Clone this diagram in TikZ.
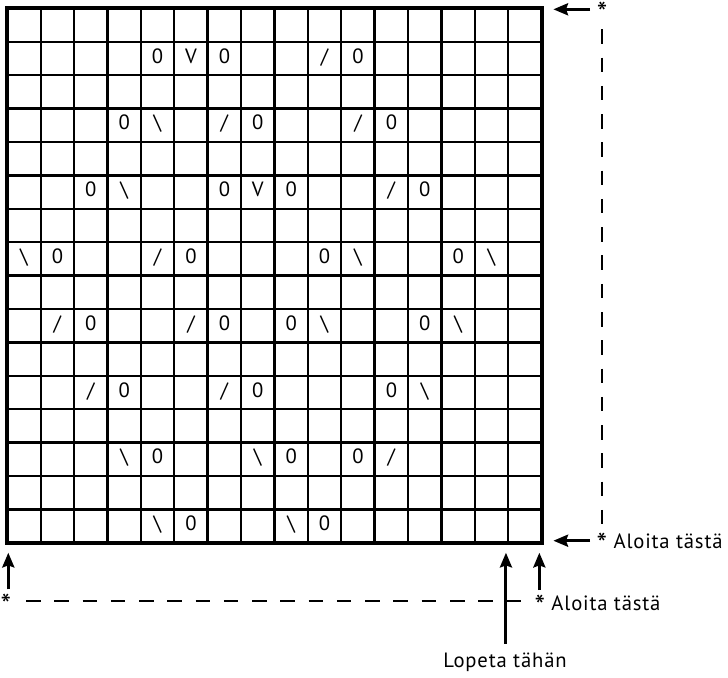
\documentclass[tikz,border=0pt]{standalone}
\usepackage{fontspec}
\setmainfont{PT Sans}[LetterSpace=4]
\usetikzlibrary{arrows.meta,calc}

\newcommand{\bsl}{\textbackslash}
\newcommand{\fsl}{/}
\newcommand{\lowstar}{\raisebox{-.3em}{\scalebox{1.45}{*}}}

\begin{document}
\begin{tikzpicture}
  [x=25.05pt, y=25.05pt,
   every node/.style={font=\fontsize{15.5}{18}\selectfont},
   gridline/.style={line width=1.8pt},
   frame/.style={line width=3pt},
   cell/.style={inner sep=0pt, text height=0.7em, text depth=0pt},
   marker/.style={inner sep=0pt, anchor=base west},
   arr/.style={line width=2.2pt, -{Stealth[length=11pt,width=9pt,inset=1.5pt]}},
   guide/.style={line width=1.6pt, dash pattern=on 10.9pt off 10.3pt}]

  \useasboundingbox (-0.2186,-4.021) rectangle (21.578,16.249);

  % chart
  \draw [gridline, step={(1,1)}] (0,0) grid (16,16);
  \draw [frame] (0,0) rectangle (16,16);
  \coordinate (BL) at (0,0);
  \coordinate (BR) at (16,0);
  \coordinate (TR) at (16,16);

  \foreach \r/\c/\s in {2/5/0, 2/6/V, 2/7/0, 2/10/\fsl, 2/11/0,
      4/4/0, 4/5/\bsl, 4/7/\fsl, 4/8/0, 4/11/\fsl, 4/12/0,
      6/3/0, 6/4/\bsl, 6/7/0, 6/8/V, 6/9/0, 6/12/\fsl, 6/13/0,
      8/1/\bsl, 8/2/0, 8/5/\fsl, 8/6/0, 8/10/0, 8/11/\bsl, 8/14/0, 8/15/\bsl,
      10/2/\fsl, 10/3/0, 10/6/\fsl, 10/7/0, 10/9/0, 10/10/\bsl, 10/13/0, 10/14/\bsl,
      12/3/\fsl, 12/4/0, 12/7/\fsl, 12/8/0, 12/12/0, 12/13/\bsl,
      14/4/\bsl, 14/5/0, 14/8/\bsl, 14/9/0, 14/11/0, 14/12/\fsl,
      16/5/\bsl, 16/6/0, 16/9/\bsl, 16/10/0}
    \node [cell] (s-\r-\c) at (\c-0.5, 16.5-\r) {\s};

  % start and stop marks
  \node [marker, anchor=base] (starTop) at (17.81,15.74) {\lowstar};
  \node [marker] (startRow) at (17.64,-0.168) {\lowstar\ Aloita tästä};
  \node [marker, anchor=base] (starLeft) at (-0.04,-2.006) {\lowstar};
  \node [marker] (startCol) at (15.78,-2.015) {\lowstar\ Aloita tästä};
  \node [marker, anchor=base] (stopCol) at (14.9,-3.75) {Lopeta tähän};

  \path (TR) ++(1.45,-0.03) coordinate (topTail);
  \path (TR) ++(0.35,-0.03) coordinate (topTip);
  \path (BR) ++(1.45,0.06) coordinate (rowTail);
  \path (BR) ++(0.35,0.06) coordinate (rowTip);
  \path (BL) ++(0.03,-0.3) coordinate (leftTip) ++(0,-1.1) coordinate (leftTail);
  \path (BR) ++(-0.07,-0.3) coordinate (colTip) ++(0,-1.12) coordinate (colTail);
  \path (BR) ++(-1.07,-0.3) coordinate (stopTip) ++(0,-2.72) coordinate (stopTail);

  \path (BL) ++(0.56,-1.745) coordinate (dashL);
  \path (BR) ++(-0.63,-1.745) coordinate (dashR);
  \path (TR) ++(1.81,-0.63) coordinate (dashT);
  \path (BR) ++(1.81,0.56) coordinate (dashB);

  \draw [guide] (dashL) -- (dashR);
  \draw [guide] (dashT) -- (dashB);

  \draw [arr] (topTail) -- (topTip);
  \draw [arr] (rowTail) -- (rowTip);
  \draw [arr] (leftTail) -- (leftTip);
  \draw [arr] (colTail) -- (colTip);
  \draw [arr] (stopTail) -- (stopTip);

\end{tikzpicture}
\end{document}
